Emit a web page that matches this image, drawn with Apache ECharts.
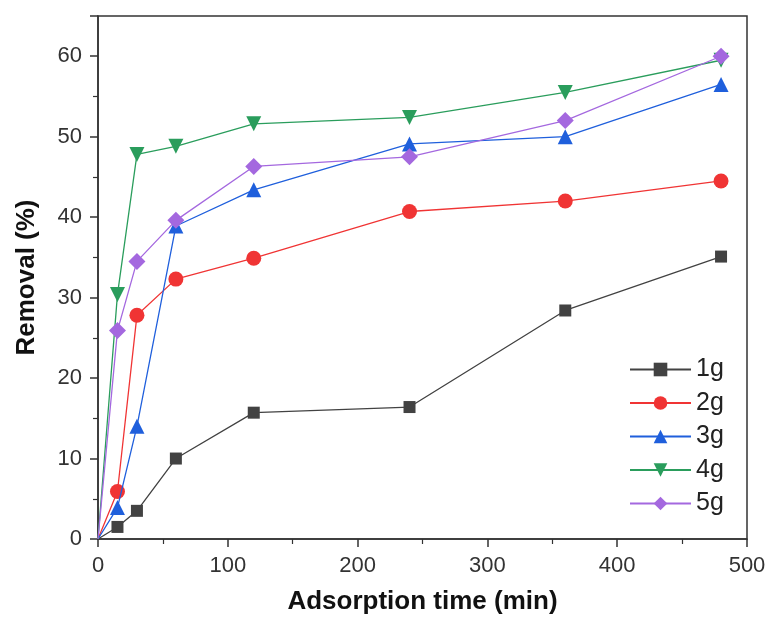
<!DOCTYPE html>
<html><head><meta charset="utf-8">
<script src="https://cdn.jsdelivr.net/npm/echarts@6/dist/echarts.min.js"></script>
<style>html,body{margin:0;padding:0;background:#fff}#c{width:769px;height:622px}</style>
</head><body><div id="c"></div>
<script>
const times = [0, 15, 30, 60, 120, 240, 360, 480];
const seriesNames = ['1g', '2g', '3g', '4g', '5g'];
const s1g = [0, 1.5, 3.5, 10.0, 15.7, 16.4, 28.4, 35.1];
const s2g = [0, 5.9, 27.8, 32.3, 34.9, 40.7, 42.0, 44.5];
const s3g = [0, 3.9, 14.0, 38.9, 43.4, 49.1, 50.0, 56.5];
const s4g = [0, 30.4, 47.8, 48.8, 51.6, 52.4, 55.5, 59.5];
const s5g = [0, 25.9, 34.5, 39.6, 46.3, 47.5, 52.0, 60.0];
const values = [s1g, s2g, s3g, s4g, s5g];
const colors = ['#424242', '#f03434', '#1f5fdc', '#2a9d5c', '#a468df'];
const symbols = ['rect', 'circle', 'triangle', 'path://M0,0 L10,0 L5,10 Z', 'diamond'];
const sizes = [12, 15, 15, 15, 17];
const FONT = 'Liberation Sans';

const chart = echarts.init(document.getElementById('c'));
chart.setOption({
  animation: false,
  backgroundColor: '#fff',
  grid: { left: 98, right: 22, top: 16, bottom: 83, show: true, borderColor: '#333', borderWidth: 1.5, backgroundColor: 'transparent' },
  legend: {
    orient: 'vertical', left: 624, top: 352, itemWidth: 61, itemHeight: 17, itemGap: 8.5,
    textStyle: { fontSize: 25, lineHeight: 24, color: '#222', fontFamily: FONT },
    data: seriesNames
  },
  xAxis: {
    type: 'value', min: 0, max: 500, interval: 100,
    name: 'Adsorption time (min)', nameLocation: 'middle', nameGap: 50,
    nameTextStyle: { fontSize: 26, fontWeight: 'bold', color: '#111', fontFamily: FONT },
    axisLine: { show: true, lineStyle: { color: '#333', width: 1.5 } },
    axisTick: { show: true, length: 8, lineStyle: { color: '#333', width: 1.5 } },
    minorTick: { show: true, splitNumber: 2, length: 5, lineStyle: { color: '#333', width: 1.2 } },
    axisLabel: { fontSize: 22, color: '#333', margin: 16, fontFamily: FONT },
    splitLine: { show: false }
  },
  yAxis: {
    type: 'value', min: 0, max: 65, interval: 10,
    name: 'Removal (%)', nameLocation: 'middle', nameGap: 58, nameRotate: 90,
    nameTextStyle: { fontSize: 26, fontWeight: 'bold', color: '#111', fontFamily: FONT },
    axisLine: { show: true, lineStyle: { color: '#333', width: 1.5 } },
    axisTick: { show: true, length: 8, lineStyle: { color: '#333', width: 1.5 } },
    minorTick: { show: true, splitNumber: 2, length: 5, lineStyle: { color: '#333', width: 1.2 } },
    axisLabel: { fontSize: 22, color: '#333', margin: 16, showMaxLabel: false, fontFamily: FONT },
    splitLine: { show: false }
  },
  series: seriesNames.map((n, i) => ({
    name: n, type: 'line',
    data: times.map((t, j) => j === 0 ? { value: [t, values[i][j]], symbol: 'none' } : [t, values[i][j]]),
    symbol: symbols[i], symbolSize: sizes[i],
    showAllSymbol: true,
    lineStyle: { color: colors[i], width: 1.3 },
    itemStyle: { color: colors[i] },
    z: 2 + i
  }))
});
</script></body></html>
